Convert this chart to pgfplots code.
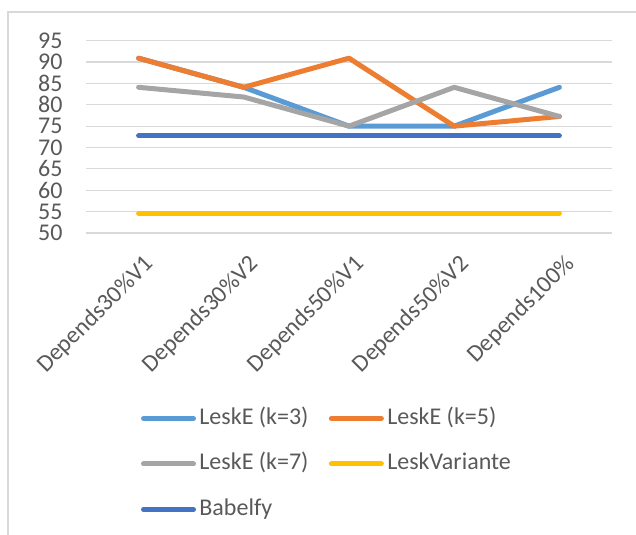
\documentclass[border=0pt]{standalone}
\usepackage{pgfplots}
\pgfplotsset{compat=1.18}
\usepackage{fontspec}
\setmainfont{Carlito}
\definecolor{cBlue}{HTML}{5B9BD5}
\definecolor{cOrange}{HTML}{ED7D31}
\definecolor{cGray}{HTML}{A5A5A5}
\definecolor{cYellow}{HTML}{FFC000}
\definecolor{cDark}{HTML}{4472C4}
\definecolor{cGrid}{HTML}{D9D9D9}
\definecolor{cText}{HTML}{595959}
\begin{document}
\begin{tikzpicture}[x=1bp,y=1bp,font=\fontsize{24bp}{28bp}\selectfont]
\path[use as bounding box] (0,0) rectangle (636,535);
\draw[cGrid, line width=1.2bp] (636,523) -- (8,523) -- (8,0);
\begin{axis}[
  at={(86bp,302bp)}, anchor=south west,
  scale only axis, width=526bp, height=192.3bp,
  xmin=-0.5, xmax=4.5, ymin=50, ymax=95,
  ytick={50,55,...,95},
  xtick={0,1,2,3,4},
  xticklabels={Depends30\%V1,Depends30\%V2,Depends50\%V1,Depends50\%V2,Depends100\%},
  axis line style={draw=none},
  major tick length=0pt,
  ymajorgrids, grid style={cGrid, line width=1.2bp},
  /pgf/number format/assume math mode=true,
  tick label style={font=\fontsize{24bp}{28bp}\selectfont, text=cText},
  yticklabel style={anchor=east, inner sep=0pt, xshift=-23.3bp},
  xticklabel style={xshift=4bp, yshift=-20bp, rotate=45, anchor=north east, inner sep=0pt},
  clip=false,
  legend columns=2,
  legend cell align=left,
  legend style={at={(axis description cs:0.1042,-0.8887)}, anchor=north west, draw=none, fill=none,
    inner sep=0pt, row sep=16.7bp, text=cText,
    font=\fontsize{24bp}{28bp}\selectfont,
    nodes={inner xsep=3.4bp, inner ysep=3.4bp, text height=17bp, text depth=5bp},
    /tikz/every even column/.append style={column sep=17bp}},
  legend image code/.code={\draw[#1, line width=5bp, line cap=round] (0bp,0bp) -- (50bp,0bp);},
  every axis plot/.append style={line width=5bp, line cap=round, line join=round, mark=none},
]
\addplot[cBlue] coordinates {(0,90.91) (1,84.09) (2,75) (3,75) (4,84.09)};
\addplot[cOrange] coordinates {(0,90.91) (1,84.09) (2,90.91) (3,75) (4,77.27)};
\addplot[cGray] coordinates {(0,84.09) (1,81.82) (2,75) (3,84.09) (4,77.27)};
\addplot[cYellow] coordinates {(0,54.55) (1,54.55) (2,54.55) (3,54.55) (4,54.55)};
\addplot[cDark] coordinates {(0,72.73) (1,72.73) (2,72.73) (3,72.73) (4,72.73)};
\legend{LeskE (k=3),LeskE (k=5),LeskE (k=7),LeskVariante,Babelfy}
\end{axis}
\end{tikzpicture}
\end{document}
